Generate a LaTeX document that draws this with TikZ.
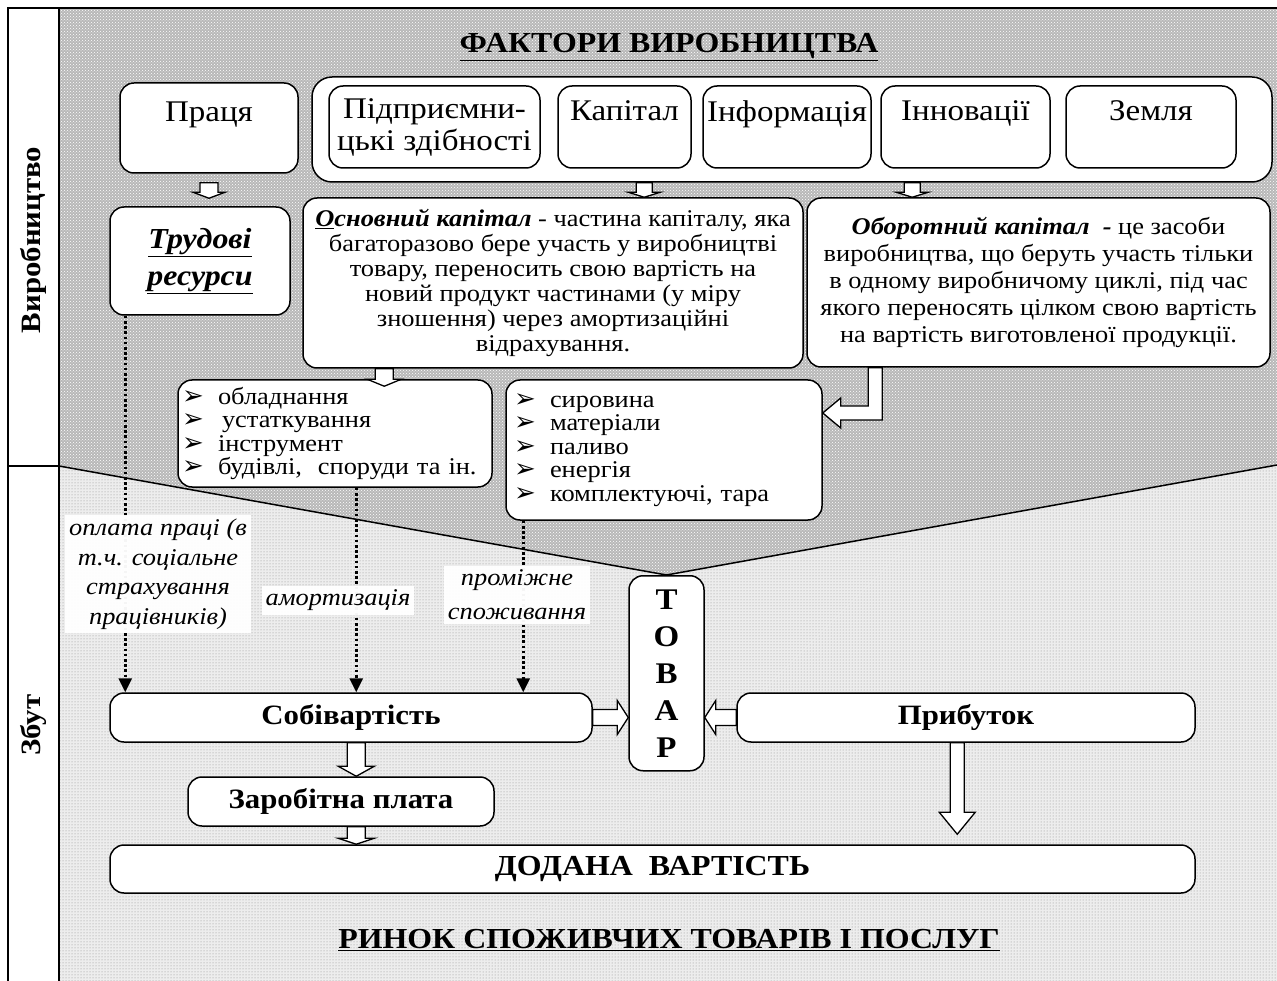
\documentclass[tikz,border=0pt]{standalone}
\usepackage{fontspec}
\setmainfont{Liberation Serif}[FakeStretch=1.1]
\newfontfamily\symfont{DejaVu Sans}
\usetikzlibrary{arrows.meta}
\usetikzlibrary{patterns}
\usetikzlibrary{calc,positioning}

\newcommand{\fntfactor}{\fontsize{30}{32}\selectfont}
\newcommand{\fnttrud}{\fontsize{29}{37}\selectfont\bfseries\itshape}
\newcommand{\fntosn}{\fontsize{24}{25}\selectfont}
\newcommand{\fntobor}{\fontsize{24}{27}\selectfont}
\newcommand{\fntlist}{\fontsize{24}{23.5}\selectfont}
\newcommand{\fntlbl}{\fontsize{24}{29.5}\selectfont\itshape}
\newcommand{\fntprom}{\fontsize{24}{34}\selectfont\itshape}
\newcommand{\fntbold}{\fontsize{28}{32}\selectfont\bfseries}
\newcommand{\fnttov}{\fontsize{30}{37}\selectfont\bfseries}
\newcommand{\fnttitle}{\fontsize{29}{34}\selectfont\bfseries}
\newcommand{\bul}{\makebox[36pt][l]{\symfont\fontsize{26}{23}\selectfont ➢}}

% hollow block arrows: from, to, shaft half width, head half width, head length
\newcommand{\fatdown}[5]{\draw[fatarrow] let \p1=(#1), \p2=(#2) in ({\x1-#3},\y1) -- ({\x1-#3},{\y2+#5}) -- ({\x1-#4},{\y2+#5}) -- (\x1,\y2) -- ({\x1+#4},{\y2+#5}) -- ({\x1+#3},{\y2+#5}) -- ({\x1+#3},\y1) -- cycle;}
\newcommand{\fatside}[5]{\draw[fatarrow] let \p1=(#1), \p2=(#2) in (\x1,{\y1+#3}) -- ({\x2-(#5)},{\y1+#3}) -- ({\x2-(#5)},{\y1+#4}) -- (\x2,\y1) -- ({\x2-(#5)},{\y1-#4}) -- ({\x2-(#5)},{\y1-#3}) -- (\x1,{\y1-#3}) -- cycle;}

\begin{document}
\begin{tikzpicture}[x=1pt,y=-1pt,
	box/.style={draw, line width=1.5pt, rounded corners=14pt, fill=white, inner sep=0pt, align=center},
	fatarrow/.style={draw, line width=1.3pt, fill=white, line join=miter},
	dotarrow/.style={line width=2.6pt, dash pattern=on 2.6pt off 2.6pt, -{Triangle[width=13pt,length=14pt]}},
	lbl/.style={fill=white, fill opacity=0.96, text opacity=1, inner sep=4pt, align=center},
	title/.style={font=\fnttitle, inner sep=0pt},
	side/.style={font=\fontsize{28}{30}\selectfont\bfseries, rotate=90}]
	\useasboundingbox (0,0) rectangle (1277,981);

	% background and frame
	\coordinate (apex) at (666.5,575);
	\path[fill=black!28, postaction={pattern=crosshatch dots, pattern color=white}] (59,8) -- (1277,8) -- (1277,465) -- (apex) -- (59,466) -- cycle;
	\path[fill=black!7, postaction={pattern=dots, pattern color=black!45}] (59,466) -- (apex) -- (1277,465) -- (1277,981) -- (59,981) -- cycle;
	\draw[line width=1.8pt] (8,981) -- (8,8) -- (1277,8);
	\draw[line width=1.5pt] (59,8) -- (59,981);
	\draw[line width=1.5pt] (8,466) -- (59,466);
	\draw[line width=1.5pt] (59,466) -- (apex) -- (1277,465);

	\node[side] (vyr) at (33,240) {Виробництво};
	\node[side] (zbut) at (33,725) {Збут};

	% factors
	\node[title] (fakt) at (669,47) {\underline{ФАКТОРИ ВИРОБНИЦТВА}};
	\node[box, minimum width=178, minimum height=90, font=\fntfactor] (praca) at (209,128) {Праця\\~};
	\node[box, rounded corners=20pt, minimum width=960, minimum height=105] (cont) at (792,129.5) {};
	\node[box, minimum width=211, minimum height=82, font=\fntfactor] (pidpr) at (434.5,127) {Підприємни-\\цькі здібності};
	\node[box, minimum width=133, minimum height=82, font=\fntfactor] (kap) at (624.5,127) {Капітал\\~};
	\node[box, minimum width=168, minimum height=82, font=\fntfactor] (inform) at (787,127) {Інформація\\~};
	\node[box, minimum width=169, minimum height=82, font=\fntfactor] (innov) at (965.5,127) {Інновації\\~};
	\node[box, minimum width=170, minimum height=82, font=\fntfactor] (zemlya) at (1151,127) {Земля\\~};

	% resources and capital
	\node[box, minimum width=180, minimum height=108, font=\fnttrud] (trud) at (200,261) {\underline{Трудові}\\\underline{ресурси}};
	\node[box, minimum width=500, minimum height=170, font=\fntosn] (osn) at (553,283) {{\bfseries\itshape\underline{О}сновний капітал} - частина капіталу, яка\\багаторазово бере участь у виробництві\\товару, переносить свою вартість на\\новий продукт частинами (у міру\\зношення) через амортизаційні\\відрахування.};
	\node[box, minimum width=463, minimum height=169, font=\fntobor] (obor) at (1038.5,282.5) {{\bfseries\itshape Оборотний капітал~~-} це засоби\\виробництва, що беруть участь тільки\\в одному виробничому циклі, під час\\якого переносять цілком свою вартість\\на вартість виготовленої продукції.};
	\fatdown{[yshift=-9pt]praca.south}{[yshift=8pt]trud.north}{9pt}{16pt}{6pt}
	\fatdown{$(cont.south west)+(333,0)$}{osn.north}{8pt}{16pt}{5pt}
	\fatdown{$(cont.south west)+(601,0)$}{obor.north}{8pt}{16pt}{5pt}

	\node[box, minimum width=314, minimum height=107, text width=306, align=left, font=\fntlist] (llist) at (335,433.5) {\bul обладнання\\\bul \,устаткування\\\bul інструмент\\\bul будівлі,~ споруди та ін.};
	\node[box, minimum width=316, minimum height=140, text width=300, align=left, font=\fntlist] (rlist) at (664,450) {\bul сировина\\\bul матеріали\\\bul паливо\\\bul енергія\\\bul комплектуючі, тара};
	\fatdown{$(osn.south west)+(82,0)$}{[yshift=-7pt]llist.north}{9pt}{17pt}{7pt}
	\draw[fatarrow] let \p1=($(obor.south west)+(69,0)$), \p2=([yshift=37pt]rlist.east) in ({\x1-7pt},\y1) -- ({\x1-7pt},{\y2+7pt}) -- ({\x2+18pt},{\y2+7pt}) -- ({\x2+18pt},{\y2+15pt}) -- (\x2,\y2) -- ({\x2+18pt},{\y2-15pt}) -- ({\x2+18pt},{\y2-7pt}) -- ({\x1+7pt},{\y2-7pt}) -- ({\x1+7pt},\y1) -- cycle;

	% sales
	\node[box, below=0pt of apex, minimum width=75, minimum height=195, font=\fnttov] (tov) {Т\\О\\В\\А\\Р};
	\node[box, minimum width=482, minimum height=49, font=\fntbold] (sob) at (351,717.5) {Собівартість};
	\node[box, minimum width=458, minimum height=49, font=\fntbold] (prib) at (966,717.5) {Прибуток};
	\node[box, minimum width=306, minimum height=49, font=\fntbold] (zar) at (341,801.5) {Заробітна плата};
	\node[box, minimum width=1085, minimum height=48, font=\fnttitle] (dod) at (652.5,869) {ДОДАНА~~ВАРТІСТЬ};
	\node[title] (rynok) at (669,940) {\underline{РИНОК СПОЖИВЧИХ ТОВАРІВ І ПОСЛУГ}};

	\fatside{sob.east}{tov.west}{8pt}{17pt}{11pt}
	\fatside{prib.west}{tov.east}{8pt}{17pt}{-11pt}
	\fatdown{$(sob.south west)+(247,0)$}{zar.north}{9pt}{18pt}{10pt}
	\fatdown{$(zar.south west)+(169,0)$}{dod.north}{9pt}{18pt}{6pt}
	\fatdown{$(prib.south west)+(221,0)$}{[yshift=10pt]dod.north}{7pt}{18pt}{22pt}

	% cost flows
	\coordinate (d1) at ($(trud.south west)+(16,0)$);
	\coordinate (d2) at ($(llist.south west)+(179,0)$);
	\coordinate (d3) at ($(rlist.south west)+(18,0)$);
	\draw[dotarrow] (d1) -- (d1 |- sob.north);
	\draw[dotarrow] (d2) -- (d2 |- sob.north);
	\draw[dotarrow] (d3) -- (d3 |- sob.north);
	\node[lbl, font=\fntlbl] (opl) at (158,574) {оплата праці (в\\т.ч. соціальне\\страхування\\працівників)};
	\node[lbl, font=\fntlbl] (amort) at (338,600) {амортизація};
	\node[lbl, font=\fntprom] (prom) at (517,595) {проміжне\\споживання};
\end{tikzpicture}
\end{document}
